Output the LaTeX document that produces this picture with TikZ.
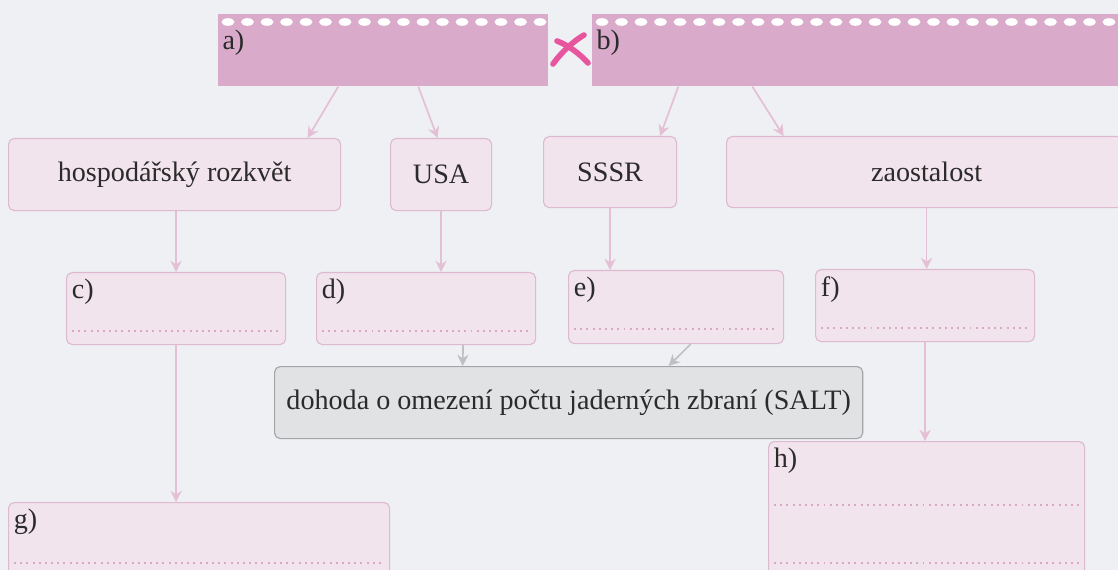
\documentclass[tikz,border=0pt]{standalone}
\usepackage{fontspec}
\setmainfont{Liberation Serif}
\usetikzlibrary{arrows.meta}

\definecolor{bgcol}{HTML}{EEF0F3}
\definecolor{boxfill}{HTML}{F2E4ED}
\definecolor{boxline}{HTML}{DDBACF}
\definecolor{topfill}{HTML}{D9AACA}
\definecolor{linecol}{HTML}{E4BFD5}
\definecolor{dotcol}{HTML}{D8A8C4}
\definecolor{grayfill}{HTML}{E1E2E4}
\definecolor{grayline}{HTML}{A3A5A8}
\definecolor{crosscol}{HTML}{E8559F}
\definecolor{textcol}{HTML}{2B2B2B}

\begin{document}
\begin{tikzpicture}[x=0.025cm, y=-0.025cm]

\tikzstyle{every node}=[font=\fontsize{20}{24}\selectfont, text=textcol]
\tikzstyle{box} = [rectangle, draw=boxline, fill=boxfill, line width=0.8pt, rounded corners=4pt, anchor=north west, inner sep=0pt]
\tikzstyle{topbox} = [rectangle, fill=topfill, anchor=north west, inner sep=0pt]
\tikzstyle{salt} = [rectangle, draw=grayline, fill=grayfill, line width=0.8pt, rounded corners=4pt, anchor=north west, inner sep=0pt]
\tikzstyle{tag} = [anchor=north west, inner sep=0pt, xshift=4pt, yshift=-5pt]
\tikzstyle{toptag} = [anchor=north west, inner sep=0pt, xshift=3pt, yshift=-11pt]
\tikzstyle{arr} = [draw=linecol, line width=1.2pt, -{Stealth[length=8pt, width=8pt, fill=linecol]}]
\tikzstyle{grayarr} = [draw=grayline!70, line width=1.2pt, -{Stealth[length=8pt, width=8pt]}]
\tikzstyle{dots} = [draw=dotcol, line width=1.2pt, dash pattern=on 1.4pt off 3pt]

% Background
\fill[bgcol] (0,0) rectangle (1118,570);
\clip (0,0) rectangle (1118,570);

% Top boxes
\node[topbox, minimum width=8.25cm, minimum height=1.8cm] (a) at (218,14) {};
\node[topbox, minimum width=13.3cm, minimum height=1.8cm] (b) at (592,14) {};
\foreach \x in {228,247.5,...,540} {
  \fill[white] (\x,22) ellipse (6.5 and 3.8);
}
\foreach \x in {602,621.5,...,1118} {
  \fill[white] (\x,22) ellipse (6.5 and 3.8);
}
\node[toptag] at (a.north west) {a)};
\node[toptag] at (b.north west) {b)};
\draw[crosscol, line width=4pt, line cap=round] (557,41) .. controls (568,45) and (580,54) .. (588,63);
\draw[crosscol, line width=4pt, line cap=round] (584,35) .. controls (572,42) and (560,54) .. (553,64);

% Nodes
\node[box, minimum width=8.3cm, minimum height=1.8cm] (hosp) at (8,138) {};
\node at (hosp.center) {hospodářský rozkvět};
\node[box, minimum width=2.525cm, minimum height=1.8cm] (usa) at (390,138) {};
\node at (usa.center) {USA};
\node[box, minimum width=3.325cm, minimum height=1.775cm] (sssr) at (543,136) {};
\node at (sssr.center) {SSSR};
\node[box, minimum width=10cm, minimum height=1.775cm] (zaost) at (726,136) {};
\node at (zaost.center) {zaostalost};

\node[box, minimum width=5.475cm, minimum height=1.8cm] (c) at (66,272) {};
\node[box, minimum width=5.475cm, minimum height=1.8cm] (d) at (316,272) {};
\node[box, minimum width=5.375cm, minimum height=1.825cm] (e) at (568,270) {};
\node[box, minimum width=5.475cm, minimum height=1.8cm] (f) at (815,269) {};
\node[tag] at (c.north west) {c)};
\node[tag] at (d.north west) {d)};
\node[tag] at (e.north west) {e)};
\node[tag] at (f.north west) {f)};

\node[salt, minimum width=14.7cm, minimum height=1.8cm] (salt) at (274,366) {};
\node at (salt.center) {dohoda o omezení počtu jaderných zbraní (SALT)};

\node[box, minimum width=9.525cm, minimum height=2.5cm] (g) at (8,502) {};
\node[box, minimum width=7.9cm, minimum height=4cm] (h) at (768,441) {};
\node[tag] at (g.north west) {g)};
\node[tag] at (h.north west) {h)};

% Dotted answer lines
\foreach \n in {c,d,e,f} {
  \draw[dots] ([shift={(6,59)}]\n.north west) -- ([shift={(-6,59)}]\n.north east);
}
\draw[dots] ([shift={(6,61)}]g.north west) -- ([shift={(-6,61)}]g.north east);
\draw[dots] ([shift={(6,64)}]h.north west) -- ([shift={(-6,64)}]h.north east);
\draw[dots] ([shift={(6,122)}]h.north west) -- ([shift={(-6,122)}]h.north east);

% Lines
\draw[arr] ([xshift=-45*0.025cm]a.south) -- ([xshift=133*0.025cm]hosp.north);
\draw[arr] ([xshift=35*0.025cm]a.south) -- ([xshift=-3.5*0.025cm]usa.north);
\draw[arr] ([xshift=-180*0.025cm]b.south) -- ([xshift=50*0.025cm]sssr.north);
\draw[arr] ([xshift=-106*0.025cm]b.south) -- ([xshift=-143*0.025cm]zaost.north);
\draw[arr] (hosp.south -| c.north) -- (c.north);
\draw[arr] (usa.south) -- (usa.south |- d.north);
\draw[arr] (sssr.south) -- (sssr.south |- e.north);
\draw[arr] (zaost.south) -- (zaost.south |- f.north);
\draw[grayarr] ([xshift=37*0.025cm]d.south) -- ([xshift=-106*0.025cm]salt.north);
\draw[grayarr] ([xshift=14.5*0.025cm]e.south) -- ([xshift=100*0.025cm]salt.north);
\draw[arr] (c.south) -- (c.south |- g.north);
\draw[arr] (f.south) -- (f.south |- h.north);

\end{tikzpicture}
\end{document}
